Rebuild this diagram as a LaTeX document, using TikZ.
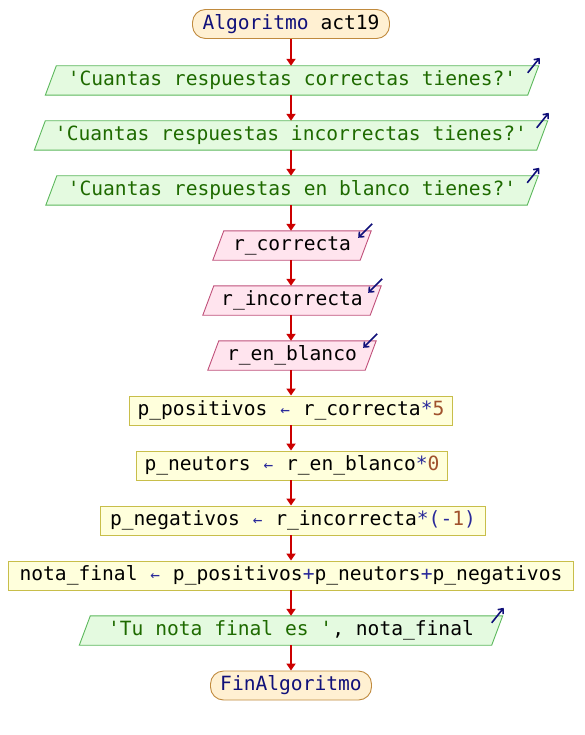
\documentclass[tikz,border=0pt]{standalone}
\usepackage{fontspec}
\setmonofont{DejaVu Sans Mono}
\usetikzlibrary{arrows.meta,calc,backgrounds}

\definecolor{kwcol}{HTML}{10107A}
\definecolor{strcol}{HTML}{1E6A00}
\definecolor{numcol}{HTML}{A0522D}
\definecolor{opcol}{HTML}{2A2A9A}
\definecolor{flowred}{HTML}{CC0000}
\definecolor{termfill}{HTML}{FFF0D2}
\definecolor{termdraw}{HTML}{C08A3E}
\definecolor{outfill}{HTML}{E4FAE0}
\definecolor{outdraw}{HTML}{5CB85C}
\definecolor{infill}{HTML}{FFE4EE}
\definecolor{indraw}{HTML}{C0507A}
\definecolor{asgfill}{HTML}{FFFFDC}
\definecolor{asgdraw}{HTML}{C8BE4A}
\definecolor{iconcol}{HTML}{10107A}

\newcommand\pkw[1]{\textcolor{kwcol}{#1}}
\newcommand\pstring[1]{\textcolor{strcol}{#1}}
\newcommand\pnum[1]{\textcolor{numcol}{#1}}
\newcommand\pop[1]{\textcolor{opcol}{#1}}
\newcommand\passign{\textcolor{opcol}{\hbox to \fontcharwd\font`\a{\hss\fontsize{16}{16}\selectfont←\hss}}}

% parallelogram drawn around a rectangular text node
\newcommand\paral[2]{%
  \path[#2] ($(#1.south west)+(-5.5,0)$) -- ($(#1.north west)+(5.5,0)$)
    -- ($(#1.north east)+(5.5,0)$) -- ($(#1.south east)+(-5.5,0)$) -- cycle;}

\tikzset{
  base/.style={font=\ttfamily\fontsize{19.6}{22}\selectfont, minimum height=29pt,
    inner sep=0pt, text height=14.5pt, text depth=4pt},
  term/.style={base, draw=termdraw, fill=termfill, rounded corners=13pt, line width=0.9pt},
  asg/.style={base, draw=asgdraw, fill=asgfill, line width=0.9pt},
  iotext/.style={base},
  outbox/.style={draw=outdraw, fill=outfill, line width=0.9pt},
  inbox/.style={draw=indraw, fill=infill, line width=0.9pt},
  flow/.style={draw=flowred, line width=2pt, -{Triangle[width=9pt,length=7pt]}},
  icon/.style={draw=iconcol, line width=1.6pt, -{Straight Barb[length=4pt,width=7pt]}},
}

\begin{document}
\begin{tikzpicture}[x=1pt,y=1pt]
\useasboundingbox (0,0) rectangle (584,-735);

\node[term, minimum width=197pt] (s) at (291,-24) {\pkw{Algoritmo} act19};
\node[iotext, minimum width=482pt] (o1) at (292,-80.5) {\pstring{'Cuantas respuestas correctas tienes?'}};
\node[iotext, minimum width=502pt] (o2) at (291,-135.5) {\pstring{'Cuantas respuestas incorrectas tienes?'}};
\node[iotext, minimum width=481pt] (o3) at (292,-190.5) {\pstring{'Cuantas respuestas en blanco tienes?'}};
\node[iotext, minimum width=147pt] (i1) at (292,-245.5) {r\_correcta};
\node[iotext, minimum width=167pt] (i2) at (292,-300.5) {r\_incorrecta};
\node[iotext, minimum width=157pt] (i3) at (292,-355.5) {r\_en\_blanco};
\node[asg, minimum width=323pt] (a1) at (291,-410.5) {p\_positivos \passign{} r\_correcta\pop{*}\pnum{5}};
\node[asg, minimum width=311pt] (a2) at (292,-465.5) {p\_neutors \passign{} r\_en\_blanco\pop{*}\pnum{0}};
\node[asg, minimum width=385pt] (a3) at (293,-520.5) {p\_negativos \passign{} r\_incorrecta\pop{*(-}\pnum{1}\pop{)}};
\node[asg, minimum width=565pt] (a4) at (291,-575.5) {nota\_final \passign{} p\_positivos\pop{+}p\_neutors\pop{+}p\_negativos};
\node[iotext, minimum width=412pt] (o4) at (291,-630.5) {\pstring{'Tu nota final es '}, nota\_final};
\node[term, minimum width=161pt] (e) at (291,-685.5) {\pkw{FinAlgoritmo}};

\begin{scope}[on background layer]
  \paral{o1}{outbox}
  \paral{o2}{outbox}
  \paral{o3}{outbox}
  \paral{o4}{outbox}
  \paral{i1}{inbox}
  \paral{i2}{inbox}
  \paral{i3}{inbox}
\end{scope}

% output / input markers
\foreach \n in {o1,o2,o3,o4}
  \draw[icon] ($(\n.north east)+(-5.5,-7)$) -- ($(\n.north east)+(6.5,8)$);
\foreach \n in {i1,i2,i3}
  \draw[icon] ($(\n.north east)+(6.5,7)$) -- ($(\n.north east)+(-7.5,-7)$);

% flow connectors, all on the common axis x = 291
\coordinate (axis) at (291,0);
\foreach \u/\v in {s/o1,o1/o2,o2/o3,o3/i1,i1/i2,i2/i3,i3/a1,a1/a2,a2/a3,a3/a4,a4/o4,o4/e}
  \draw[flow] (axis |- \u.south) -- (axis |- \v.north);
\end{tikzpicture}
\end{document}
